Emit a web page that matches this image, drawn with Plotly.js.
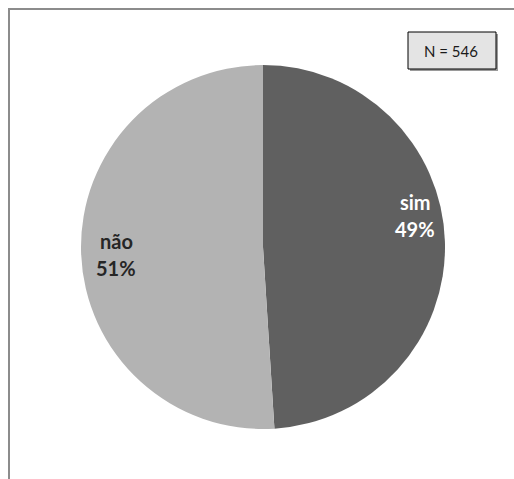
<!DOCTYPE html>
<html>
<head>
<meta charset="utf-8">
<script src="https://cdn.plot.ly/plotly-3.0.1.min.js"></script>
<style>html,body{margin:0;padding:0;background:#fff;}#chart{width:514px;height:479px;}</style>
</head>
<body>
<div id="chart"></div>
<script>
var categories = ["sim", "não"];
var values = [49, 51];
var sliceColors = ["#606060", "#b3b3b3"];
var labelColors = ["#ffffff", "#262626"];
var nLabel = "N = 546";

var W = 514, H = 479;
function px(x){ return x / W; }
function py(y){ return 1 - y / H; }

var total = values.reduce(function(a,b){return a+b;}, 0);
var pctText = values.map(function(v){ return Math.round(v / total * 100) + "%"; });

// label block positions (pixels) for each category
var labelPos = [[415, 202, 229], [116, 241, 268]];

var annotations = [];
categories.forEach(function(c, i){
  annotations.push({xref:"paper", yref:"paper", x:px(labelPos[i][0]), y:py(labelPos[i][1]),
    text:"<b>"+c+"</b>", showarrow:false, xanchor:"center", yanchor:"middle",
    font:{family:"Lato, 'Open Sans', sans-serif", size:20, color:labelColors[i]}});
  annotations.push({xref:"paper", yref:"paper", x:px(labelPos[i][0]), y:py(labelPos[i][2]),
    text:"<b>"+pctText[i]+"</b>", showarrow:false, xanchor:"center", yanchor:"middle",
    font:{family:"Lato, 'Open Sans', sans-serif", size:20, color:labelColors[i]}});
});
annotations.push({xref:"paper", yref:"paper", x:px(451), y:py(51), text:nLabel, showarrow:false,
  xanchor:"center", yanchor:"middle", font:{family:"Lato, 'Open Sans', sans-serif", size:15, color:"#1a1a1a"}});

var data = [{
  type: "pie",
  labels: categories,
  values: values,
  sort: false,
  direction: "clockwise",
  rotation: 0,
  marker: {colors: sliceColors, line: {width: 0}},
  textinfo: "none",
  hoverinfo: "none",
  showlegend: false,
  domain: {x: [px(81), px(445)], y: [py(429), py(65)]}
}];

var layout = {
  width: W, height: H,
  margin: {l:0, r:0, t:0, b:0},
  paper_bgcolor: "#ffffff",
  showlegend: false,
  annotations: annotations,
  shapes: [
    {type:"line", xref:"paper", yref:"paper", x0:px(9), x1:px(9), y0:py(8), y1:0, line:{color:"#8c8c8c", width:2}},
    {type:"line", xref:"paper", yref:"paper", x0:px(8), x1:1, y0:py(9), y1:py(9), line:{color:"#8c8c8c", width:2}},
    {type:"rect", xref:"paper", yref:"paper", x0:px(410), x1:px(498), y0:py(71), y1:py(34), line:{width:0}, fillcolor:"#9a9a9a"},
    {type:"rect", xref:"paper", yref:"paper", x0:px(408), x1:px(496), y0:py(69), y1:py(32), line:{color:"#000000", width:1}, fillcolor:"#e4e4e4"}
  ]
};

Plotly.newPlot("chart", data, layout, {staticPlot:true, displayModeBar:false});
</script>
</body>
</html>
